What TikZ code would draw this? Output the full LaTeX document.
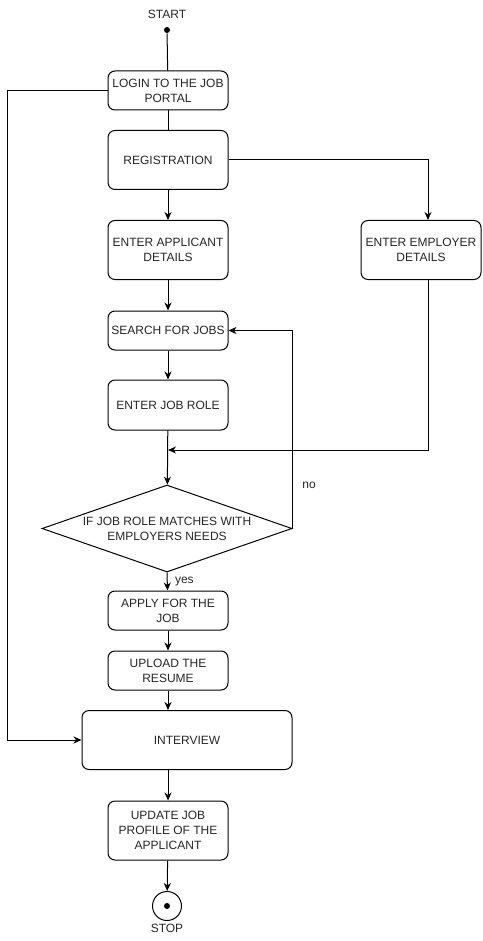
\documentclass[tikz,border=0pt]{standalone}
\usepackage{fontspec}
\setmainfont{Liberation Sans}
\usetikzlibrary{arrows.meta,shapes.geometric}

\begin{document}
\begin{tikzpicture}[x=1pt,y=-1pt,
    line width=1pt,
    font=\fontsize{12}{15}\selectfont,
    txt/.style={text=black!85, align=center},
    stepbox/.style={draw, rounded corners=7pt, minimum width=120pt, minimum height=39pt, inner sep=0pt, txt},
    tallbox/.style={stepbox, minimum height=59pt},
    arr/.style={-{Stealth[length=8pt,width=7pt,inset=2.5pt]}}]
  \useasboundingbox (0,0) rectangle (482,941);

  % Definizione dei nodi
  \node[txt] (startlbl) at (167,14) {START};
  \node[circle, fill, inner sep=0pt, minimum size=6pt] (startdot) at (167,30) {};
  \node[stepbox] (login) at (168,90.5) {LOGIN TO THE JOB\\PORTAL};
  \node[tallbox] (reg) at (168,160) {REGISTRATION};
  \node[tallbox] (appl) at (168,250) {ENTER APPLICANT\\DETAILS};
  \node[tallbox] (empl) at (421,250) {ENTER EMPLOYER\\DETAILS};
  \node[stepbox] (search) at (168,330.5) {SEARCH FOR JOBS};
  \node[stepbox, minimum height=50pt] (role) at (168,405) {ENTER JOB ROLE};
  \node[diamond, draw, inner sep=0pt, minimum width=250pt, minimum height=87pt] (dec) at (167,528.5) {};
  \node[txt] (declbl) at (dec.center) {IF JOB ROLE MATCHES WITH\\EMPLOYERS NEEDS};
  \node[stepbox] (apply) at (168,610.5) {APPLY FOR THE\\JOB};
  \node[stepbox] (upload) at (168,670.5) {UPLOAD THE\\RESUME};
  \node[tallbox, minimum width=210pt] (interview) at (187,740) {INTERVIEW};
  \node[tallbox] (update) at (168,830.5) {UPDATE JOB\\PROFILE OF THE\\APPLICANT};
  \node[circle, draw, inner sep=0pt, minimum size=29pt] (stop) at (167,906) {};
  \node[circle, fill, inner sep=0pt, minimum size=6pt] (stopdot) at (stop.center) {};
  \node[txt] (stoplbl) at (167,928) {STOP};
  \coordinate (join) at (168,450);

  % Definizione degli archi
  \draw (startdot) -- (login);
  \draw (login) -- (reg);
  \draw[arr] (reg) -- (appl);
  \draw[arr] (reg.east) -| ([xshift=7pt]empl.north);
  \draw[arr] (appl) -- (search);
  \draw[arr] (search) -- (role);
  \draw[arr] (role) -- (dec);
  \draw[arr] ([xshift=7pt]empl.south) |- (join);
  \draw[arr] (dec.east) |- (search.east) node[pos=0.11, right=6pt, txt] {no};
  \draw[arr] (dec.south) -- (apply) node[midway, right=4pt, txt] {yes};
  \draw[arr] (apply) -- (upload);
  \draw[arr] (upload) -- (upload.south |- interview.north);
  \draw[arr] (login.west) -- ++(-100,0) |- (interview.west);
  \draw[arr] (update.north |- interview.south) -- (update);
  \draw[arr] (update) -- (stop);
\end{tikzpicture}
\end{document}
